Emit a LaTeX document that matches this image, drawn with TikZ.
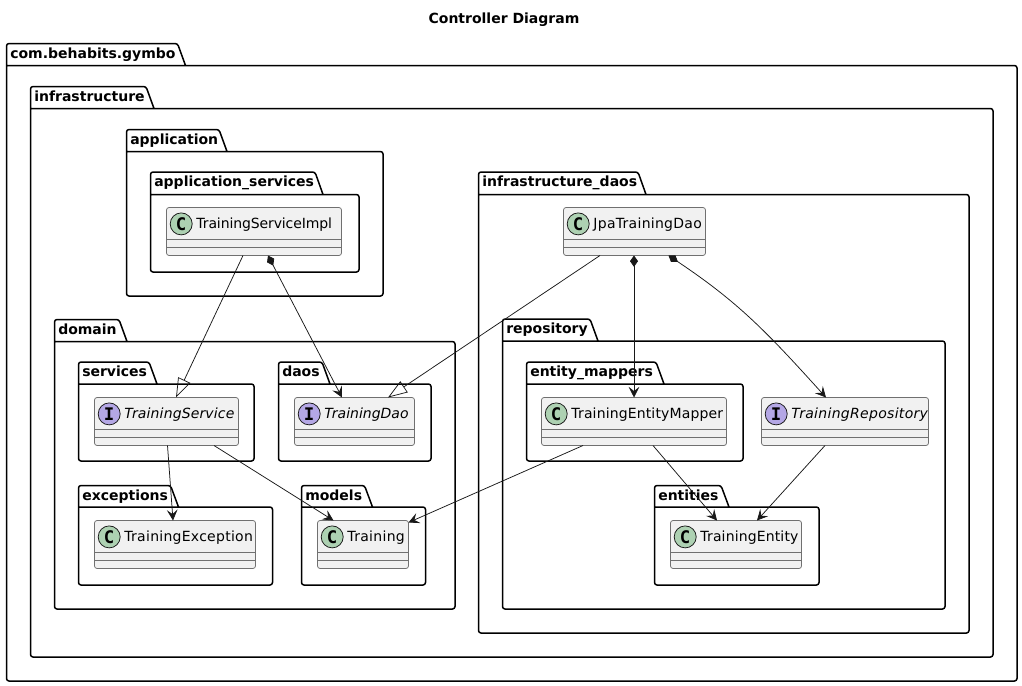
\documentclass[tikz,border=0pt]{standalone}
\usepackage{fontspec}
\setmainfont{DejaVu Sans}
\newfontfamily\iconfont[Scale=1]{DejaVu Sans Mono}
\usetikzlibrary{arrows.meta}
\definecolor{classfill}{HTML}{F1F1F1}
\definecolor{classline}{HTML}{181818}
\definecolor{classrule}{HTML}{707070}
\definecolor{classicon}{HTML}{ADD1B2}
\definecolor{interfaceicon}{HTML}{B4A7E5}
\def\px{0.75pt}
\newcommand\spaced[2]{{\addfontfeature{LetterSpace=#1}#2}}
\newcommand\DrawPackage[8]{% name, x1, top, x2, body, bottom, end of tab, text
  \draw[package line] (#2,#5) -- (#7+8,#5) [rounded corners=2.5*\px] -- (#4,#5) -- (#4,#6)
    -- (#2,#6) -- (#2,#3) -- (#7,#3) [sharp corners] -- (#7+8,#5);
  \node[package text] (#1) at (#2+3.5,#3+14.5) {#8};
}
\newcommand\DrawBox[7]{% name, x1, y1, x2, letter, icon colour, text
  \node[class box,minimum width={(#4-#2)*\px}] (#1) at (#2,#3) {};
  \draw[class line] ([yshift=-32*\px]#1.north west) -- ([yshift=-32*\px]#1.north east);
  \draw[class line] ([yshift=-40*\px]#1.north west) -- ([yshift=-40*\px]#1.north east);
  \node[class icon,fill=#6] (#1 icon) at ([shift={(14.7*\px,-16.4*\px)}]#1.north west) {#5};
  \node[class text] (#1 text) at ([shift={(29.7*\px,-21.4*\px)}]#1.north west) {#7};
}
\tikzset{%
  package line/.style={black,line width=1.5*\px,line join=round},
  package text/.style={anchor=base west,inner sep=0pt,font=\fontsize{10.5}{12}\selectfont\bfseries},
  class box/.style={anchor=north west,draw=classrule,fill=classfill,line width=0.75*\px,
    rounded corners=2.5*\px,minimum height=48*\px,inner sep=0pt,outer sep=0pt},
  class line/.style={classrule,line width=0.75*\px},
  class icon/.style={circle,draw=classline,line width=0.75*\px,minimum size=22*\px,inner sep=0pt,
    font=\fontsize{13}{13}\iconfont\bfseries},
  class text/.style={anchor=base west,inner sep=0pt,text=black,font=\fontsize{10.5}{12}\selectfont},
  link/.style={classline,line width=0.75*\px},
  extends/.style={link,-{Triangle[open,length=14.5pt,width=10pt]}},
  uses/.style={link,-{Stealth[length=8pt,width=8pt,inset=3.2pt]}},
  composes/.style={link,{Diamond[length=8.5pt,width=6pt]}-{Stealth[length=8pt,width=8pt,inset=3.2pt]}}
}
\begin{document}
\begin{tikzpicture}[x=\px,y=-\px]
\useasboundingbox (0,0) rectangle (1022,686);

\node[anchor=base,inner sep=0pt,font=\fontsize{10.5}{12}\selectfont\bfseries] (title) at (504,23) {Controller Diagram};

% packages
\DrawPackage{gymbo}{6.5}{43.5}{1017}{65.5}{681}{177.5}{com.behabits.gymbo}
\DrawPackage{infrastructure}{30.5}{86.5}{993}{108.5}{657}{146}{infrastructure}
\DrawPackage{application}{126.5}{129.5}{383}{151.5}{296}{219}{application}
\DrawPackage{appservices}{150.5}{172}{359}{194.5}{272}{315}{application\_services}
\DrawPackage{domain}{54.5}{319.5}{455}{341.5}{609}{119}{domain}
\DrawPackage{services}{78.5}{362}{254}{384}{461}{149}{services}
\DrawPackage{daos}{278.5}{362}{431}{384}{461}{322}{daos}
\DrawPackage{exceptions}{78.5}{485.5}{272.5}{507}{585}{170.5}{exceptions}
\DrawPackage{models}{301.5}{485.5}{425.5}{507}{585}{364.5}{models}
\DrawPackage{infradaos}{478.5}{172}{969}{194.5}{633}{638}{infrastructure\_daos}
\DrawPackage{repository}{502.5}{319}{945}{341}{609}{590}{repository}
\DrawPackage{mappers}{526.5}{362}{743}{384}{461}{656}{entity\_mappers}
\DrawPackage{entities}{654.5}{485.5}{819}{507}{585}{721}{entities}

% classes
\DrawBox{impl}{166.5}{207.5}{341.5}{C}{classicon}{\spaced{-0.8}{TrainingServiceImpl}}
\DrawBox{service}{94.5}{397.5}{238.5}{I}{interfaceicon}{\itshape\spaced{1}{TrainingService}}
\DrawBox{dao}{294.5}{397.5}{414.5}{I}{interfaceicon}{\itshape TrainingDao}
\DrawBox{exception}{94.5}{520.5}{255.5}{C}{classicon}{\spaced{1.9}{TrainingException}}
\DrawBox{training}{317.5}{520.5}{408.5}{C}{classicon}{\spaced{2.2}{Training}}
\DrawBox{jpa}{563.5}{207.5}{705.5}{C}{classicon}{\spaced{2}{JpaTrainingDao}}
\DrawBox{mapper}{541.5}{397.5}{726.5}{C}{classicon}{\spaced{1}{TrainingEntityMapper}}
\DrawBox{repo}{761.5}{397.5}{928.5}{I}{interfaceicon}{\itshape\spaced{2.2}{TrainingRepository}}
\DrawBox{entity}{670.5}{520.5}{801.5}{C}{classicon}{\spaced{1}{TrainingEntity}}

% links
\draw[extends] ([xshift=76.5*\px]impl.south west) -- ([xshift=81.5*\px]service.north west);
\draw[composes] ([xshift=101.5*\px]impl.south west) -- ([xshift=47.5*\px]dao.north west);
\draw[extends] ([xshift=36.5*\px]jpa.south west) -- ([xshift=93.5*\px]dao.north west);
\draw[composes] ([xshift=70.5*\px]jpa.south west) -- ([xshift=92.5*\px]mapper.north west);
\draw[composes] ([xshift=105*\px]jpa.south west) .. controls (738,302) and (766,331) .. ([xshift=64.5*\px]repo.north west);
\draw[uses] ([xshift=73*\px]service.south west) -- ([xshift=78.5*\px]exception.north west);
\draw[uses] ([xshift=119.5*\px]service.south west) -- ([xshift=16*\px]training.north west);
\draw[uses] ([xshift=41.5*\px]mapper.south west) -- ([shift={(91*\px,-2*\px)}]training.north west);
\draw[uses] ([xshift=111.5*\px]mapper.south west) -- ([xshift=46.5*\px]entity.north west);
\draw[uses] ([xshift=63.5*\px]repo.south west) -- ([xshift=86.5*\px]entity.north west);
\end{tikzpicture}
\end{document}
